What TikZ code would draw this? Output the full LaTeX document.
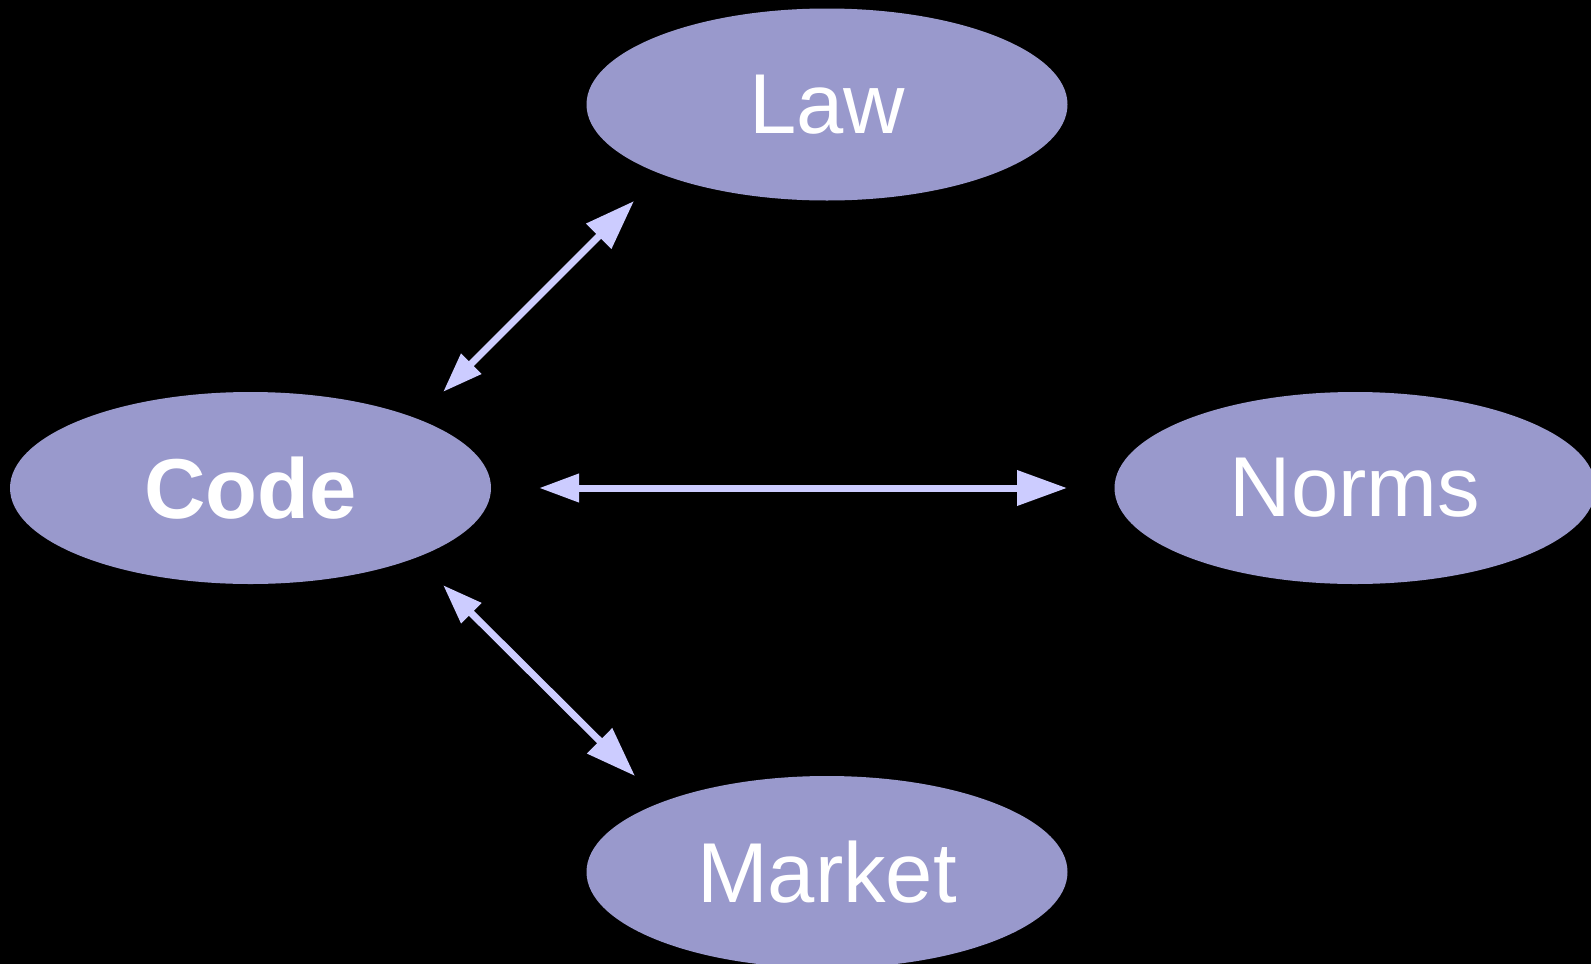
\documentclass[tikz,border=0pt]{standalone}
\usepackage{fontspec}
\setmainfont{Liberation Sans}
\usetikzlibrary{shapes.geometric,arrows.meta}
\definecolor{ellfill}{HTML}{9999CC}
\definecolor{arrowcol}{HTML}{CCCCFF}
\begin{document}
\begin{tikzpicture}[x=1pt,y=-1pt,
  blob/.style={ellipse,fill=ellfill,inner sep=0pt,minimum width=481pt,minimum height=192pt,
    text=white,font=\fontsize{85}{100}\selectfont},
  link/.style={draw=arrowcol,line width=7pt,
    {Triangle[length=40pt,width=27pt,fill=arrowcol]}-{Triangle[length=50pt,width=34pt,fill=arrowcol]}}]
\fill[black] (0,0) rectangle (1591,964);
\useasboundingbox (0,0) rectangle (1591,964);
\node[blob] (law) at (827,104.5) {Law};
\node[blob] (code) at (250.5,488) {\bfseries Code};
\node[blob] (norms) at (1355,488) {Norms};
\node[blob] (market) at (827,872) {Market};
\coordinate (c1) at (443,392);
\coordinate (l1) at (634,201);
\coordinate (c2) at (539,488);
\coordinate (n1) at (1067,488);
\coordinate (c3) at (443,585);
\coordinate (m1) at (635,776);
\draw[link] (c1) -- (l1);
\draw[link] (c2) -- (n1);
\draw[link] (c3) -- (m1);
\end{tikzpicture}
\end{document}
